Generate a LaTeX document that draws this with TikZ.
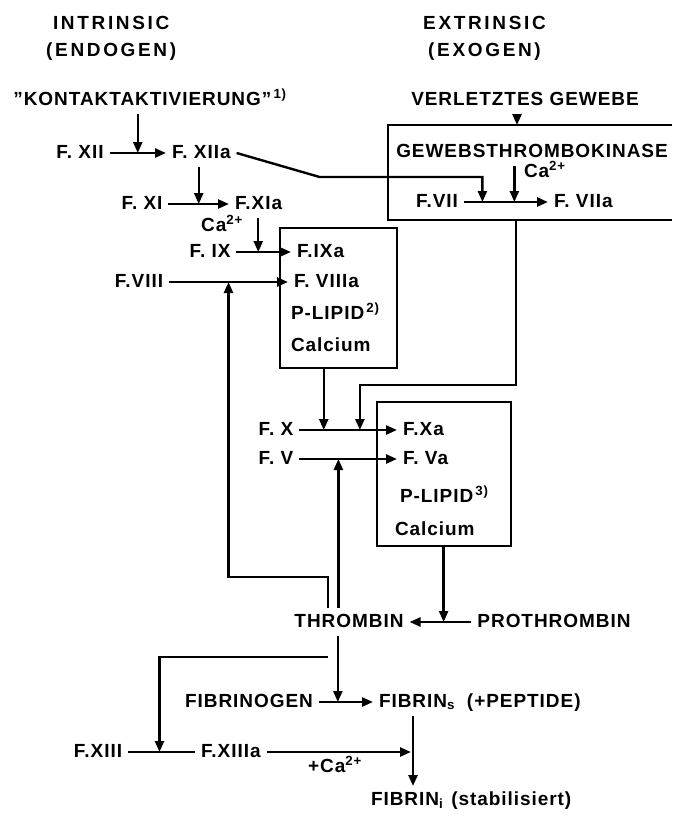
\documentclass[tikz,border=0pt]{standalone}
\usepackage{fontspec}
\setmainfont{Liberation Sans}[LetterSpace=5]
\usepackage{tikz}
\usetikzlibrary{arrows.meta}

\begin{document}
\begin{tikzpicture}[x=1pt, y=-1pt, line width=2.4pt, >={Triangle[length=11pt,width=9pt]},
    lbl/.style={inner sep=4pt, outer sep=2pt, text height=13pt, text depth=3pt, font=\fontsize{19}{20}\selectfont\bfseries},
    head/.style={inner sep=0pt, align=center, font=\fontsize{19}{27}\selectfont\bfseries\addfontfeature{LetterSpace=14}},
    box/.style={draw, line width=2.6pt}]
    \useasboundingbox (0,0) rectangle (672,816);

    % Headings
    \node[head, anchor=north west] (intrinsic) at (45,15) {INTRINSIC\\(ENDOGEN)};
    \node[head, anchor=north west] (extrinsic) at (422,15) {EXTRINSIC\\(EXOGEN)};

    % Starting points
    \node[lbl] (kontakt) at (150,100) {"KONTAKTAKTIVIERUNG"\textsuperscript{\,1)}};
    \node[lbl] (verletzt) at (525,100) {VERLETZTES GEWEBE};

    % Intrinsic cascade
    \node[lbl] (fxii) at (80,153) {F. XII};
    \node[lbl, anchor=west] (fxiia) at (166,153) {F. XIIa};
    \node[lbl] (fxi) at (142,204) {F. XI};
    \node[lbl, anchor=west] (fxia) at (229,204) {F.XIa};
    \node[lbl] (caA) at (222,226) {Ca\textsuperscript{2+}};
    \node[lbl] (fix) at (210,252) {F. IX};
    \node[lbl] (fviii) at (139,282) {F.VIII};

    % Box of F.IXa
    \node[box, minimum width=117, minimum height=140] (boxIX) at (338.5,298) {};
    \node[lbl, anchor=west] (fixa) at (291,252) {F.IXa};
    \node[lbl, anchor=west] (fviiia) at (288,282) {F. VIIIa};
    \node[lbl, anchor=west] (lipidA) at (285,314) {P-LIPID\textsuperscript{\,2)}};
    \node[lbl, anchor=west] (calciumA) at (285,346) {Calcium};

    % Extrinsic box (runs off the right edge)
    \draw[box] (672,125) -| (388,220) -- (672,220);
    \coordinate (extTop) at (517,125);
    \coordinate (extOut) at (516,220);
    \node[lbl] (gewebs) at (532,152) {GEWEBSTHROMBOKINASE};
    \node[lbl, anchor=west] (caB) at (518,172) {Ca\textsuperscript{2+}};
    \node[lbl] (fvii) at (437,202) {F.VII};
    \node[lbl, anchor=west] (fviia) at (548,202) {F. VIIa};

    % Box of F.Xa
    \node[box, minimum width=134, minimum height=144] (boxX) at (444,474) {};
    \node[lbl] (fx) at (276,430) {F. X};
    \node[lbl] (fv) at (276,459) {F. V};
    \node[lbl, anchor=west] (fxa) at (397,430) {F.Xa};
    \node[lbl, anchor=west] (fva) at (397,459) {F. Va};
    \node[lbl, anchor=west] (lipidB) at (394,497) {P-LIPID\textsuperscript{\,3)}};
    \node[lbl, anchor=west] (calciumB) at (389,530) {Calcium};

    % Thrombin
    \node[lbl] (thrombin) at (349,622) {THROMBIN};
    \node[lbl] (prothrombin) at (554,622) {PROTHROMBIN};

    % Fibrin
    \node[lbl] (fibrinogen) at (249,702) {FIBRINOGEN};
    \node[lbl, anchor=west] (fibrins) at (373,702) {FIBRIN\textsubscript{s}\hspace{12pt}(+PEPTIDE)};
    \node[lbl] (fxiii) at (98,752) {F.XIII};
    \node[lbl, anchor=west] (fxiiia) at (195,752) {F.XIIIa};
    \node[lbl] (caC) at (335,767) {+Ca\textsuperscript{2+}};
    \node[lbl, anchor=west] (fibrini) at (365,800) {FIBRIN\textsubscript{i}\hspace{8pt}(stabilisiert)};

    % Arrows of the intrinsic path
    \draw[->] (fxii) -- coordinate (kA) (fxiia);
    \draw[->] (kA |- kontakt.south) -- (kA);
    \draw[->] (fxi) -- coordinate (kB) (fxia);
    \draw[->] (kB |- fxiia.south) -- (kB);
    \draw[->] (fix) -- coordinate[pos=0.4] (kC) (fixa);
    \draw[->] (kC |- fxia.south) -- (kC);
    \draw[->] (fviii) -- coordinate (kD) (fviiia);

    % Arrows of the extrinsic path
    \draw[->] (fvii) -- coordinate[pos=0.22] (kE) coordinate[pos=0.6] (kF) (fviia);
    \draw[->] (extTop |- verletzt.south) -- (extTop);
    \draw[->] (kF |- gewebs.south) -- (kF);
    \draw[->] (fxiia.east) -- ++(83,24) -| (kE);

    % Into F.X and F.V
    \draw[->] (fx) -- coordinate[pos=0.25] (kG) coordinate[pos=0.62] (kH) (fxa);
    \draw[->] (fv) -- coordinate[pos=0.4] (kI) (fva);
    \draw[->] (kG |- boxIX.south) -- (kG);
    \draw[->] (extOut) -- ++(0,165) -| (kH);

    % Thrombin and its feedback
    \draw[->] (prothrombin) -- coordinate[pos=0.45] (kJ) (thrombin);
    \draw[->] (kJ |- boxX.south) -- (kJ);
    \draw[->] (kI |- thrombin.north) -- (kI);
    \draw[->] ([xshift=-21pt]thrombin.north) -- ++(0,-31) -| (kD);

    % Fibrin formation
    \draw[->] (fibrinogen) -- coordinate[pos=0.35] (kK) (fibrins);
    \draw[->] (kK |- thrombin.south) -- (kK);
    \draw (fxiii) -- coordinate[pos=0.47] (kL) (fxiiia);
    \coordinate (brStart) at (328,657);
    \draw[->] (brStart) -| (kL);
    \coordinate (fibCol) at (413,0);
    \draw[->] (fibCol |- fibrins.south) -- (fibCol |- fibrini.north);
    \draw[->, shorten >=2pt] (fxiiia) -- (fxiiia -| fibCol);
\end{tikzpicture}
\end{document}
